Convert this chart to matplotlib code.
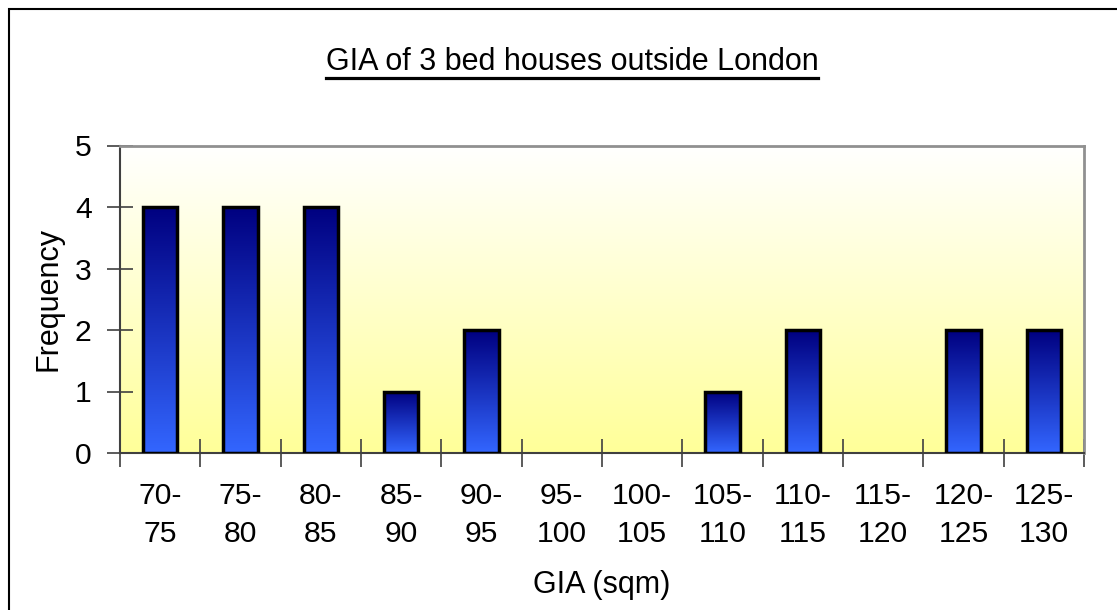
import matplotlib
matplotlib.use('Agg')
import matplotlib.pyplot as plt
import numpy as np
from matplotlib.colors import LinearSegmentedColormap
from matplotlib.patches import Rectangle
from matplotlib.lines import Line2D

bins = ['70-\n75', '75-\n80', '80-\n85', '85-\n90', '90-\n95', '95-\n100',
        '100-\n105', '105-\n110', '110-\n115', '115-\n120', '120-\n125', '125-\n130']
freq = [4, 4, 4, 1, 2, 0, 0, 1, 2, 0, 2, 2]

plt.rcParams['font.family'] = ['Liberation Sans', 'DejaVu Sans']

W, H = 1117, 610
fig = plt.figure(figsize=(W / 100, H / 100), dpi=100)
ax = fig.add_axes([120 / W, 1 - 453 / H, (1084 - 120) / W, (453 - 145.5) / H])

x = np.arange(len(bins))

# plot area gradient (white -> pale yellow)
bg = LinearSegmentedColormap.from_list('bg', ['#ffff99', '#ffffff'])
grad = np.linspace(0, 1, 256).reshape(-1, 1)
ax.imshow(grad, cmap=bg, aspect='auto', origin='lower',
          extent=(-0.5, len(bins) - 0.5, 0, 5), zorder=0)

# bars with vertical gradient, skip outlines on empty bins
barcm = LinearSegmentedColormap.from_list('bar', ['#3366ff', '#000080'])
bars = ax.bar(x, freq, width=0.43, facecolor='none', edgecolor='black',
              linewidth=2.5, zorder=3)
for b in bars:
    h = b.get_height()
    if h <= 0:
        b.set_linewidth(0)
        continue
    x0 = b.get_x()
    ax.imshow(grad, cmap=barcm, aspect='auto', origin='lower',
              extent=(x0, x0 + b.get_width(), 0, h), zorder=2)
ax.set_xlim(-0.5, len(bins) - 0.5)
ax.set_ylim(0, 5)

ax.set_yticks(range(6))
ax.set_xticks(np.arange(len(bins) + 1) - 0.5)
ax.set_xticklabels([])
ax.set_xticks(x, minor=True)
ax.set_xticklabels(bins, minor=True, fontsize=21.7, linespacing=1.45)
ax.tick_params(axis='x', which='minor', length=0, pad=21)
ax.tick_params(axis='x', which='major', direction='inout', length=20,
               color='#404040', width=1.2)
ax.tick_params(axis='y', direction='inout', length=19, color='#404040',
               width=1.2, labelsize=21.7, pad=11)

for s in ['top', 'right']:
    ax.spines[s].set_color('#909090')
    ax.spines[s].set_linewidth(2)
for s in ['left', 'bottom']:
    ax.spines[s].set_color('#404040')
    ax.spines[s].set_linewidth(1.5)

ax.set_ylabel('Frequency', fontsize=22, labelpad=8)
ax.set_xlabel('GIA (sqm)', fontsize=22, labelpad=16)

# title with underline
t = fig.text(572 / W, 1 - 62 / H, 'GIA of 3 bed houses outside London',
             fontsize=22, ha='center', va='center')
fig.canvas.draw()
bb = t.get_window_extent()
uy = 1 - 77.7 / H
fig.add_artist(Line2D([bb.x0 / W, bb.x1 / W], [uy, uy], color='black',
                      linewidth=2.3, transform=fig.transFigure))

# outer chart frame
fig.add_artist(Rectangle((9 / W, -0.05), 1.2, 1 - 9 / H + 0.05, fill=False,
                         edgecolor='black', linewidth=1.5,
                         transform=fig.transFigure))

fig.savefig('out.png', dpi=100)
